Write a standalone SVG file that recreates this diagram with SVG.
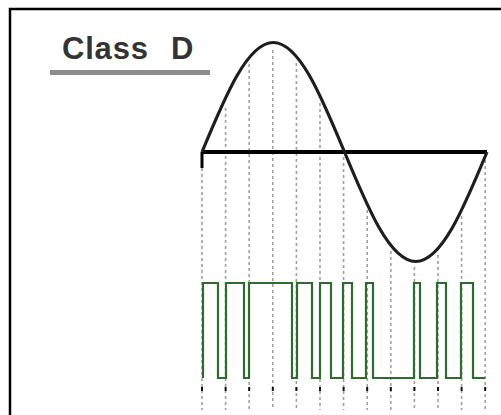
<svg xmlns="http://www.w3.org/2000/svg" width="501" height="415" viewBox="0 0 501 415">
<style>
.title{font-family:"Liberation Sans",Arial,sans-serif;font-weight:bold;font-size:31px;fill:#343434;letter-spacing:0.8px}
.grid{stroke:#a0a0a0;stroke-width:1.6;stroke-dasharray:3 3;fill:none}
.tick{fill:#111}
.wave{stroke:#1e1e1e;stroke-width:3.2;fill:none;stroke-linejoin:round}
.axis{stroke:#000;stroke-width:4;fill:none}
.pwm{stroke:#2f6b2f;stroke-width:2.2;fill:none;stroke-linejoin:miter}
</style>
<rect width="501" height="415" fill="#fff"/>
<g id="frame">
<path d="M10,415 V9 H501" stroke="#000" stroke-width="2.5" fill="none"/>
</g>
<g id="title">
<text class="title" x="62" y="59">Class<tspan x="171">D</tspan></text>
<rect x="50" y="70" width="160" height="5" fill="#8c8c8c"/>
</g>
<g id="connectors">
<path class="grid" d="M202,168V410 M225.6,108V410 M249.2,64V410 M272.8,50V410 M296.4,63V410 M320,103V410 M343.6,157V410 M367.2,210V410 M390.8,251V410 M414.4,267V410 M438,255V410 M461.6,216V410 M485.2,160V410"/>
<g class="tick">
<rect x="201" y="387" width="2" height="4"/>
<rect x="224.6" y="387" width="2" height="4"/>
<rect x="248.2" y="387" width="2" height="4"/>
<rect x="271.8" y="387" width="2" height="4"/>
<rect x="295.4" y="387" width="2" height="4"/>
<rect x="319" y="387" width="2" height="4"/>
<rect x="342.6" y="387" width="2" height="4"/>
<rect x="366.2" y="387" width="2" height="4"/>
<rect x="389.8" y="387" width="2" height="4"/>
<rect x="413.4" y="387" width="2" height="4"/>
<rect x="437" y="387" width="2" height="4"/>
<rect x="460.6" y="387" width="2" height="4"/>
<rect x="484.2" y="387" width="2" height="4"/>
</g>
</g>
<g id="axis">
<path class="axis" d="M202,152 H487"/>
<path d="M202,152 V168" stroke="#000" stroke-width="3"/>
</g>
<g id="sine">
<path class="wave" d="M202,152 C225.24,95.9 247.47,42.5 273.25,42.5 C299.03,42.5 321.26,95.9 344.5,152 C367.740,208.1 389.97,261.5 415.75,261.5 C441.53,261.5 463.76,208.1 487,152"/>
</g>
<g id="pwm">
<path class="pwm" d="M203,378 V283 H218 V378 H226 V283 H244 V378 H249 V283 H292 V378 H297 V283 H312 V378 H320 V283 H331 V378 H343 V283 H352 V378 H366 V283 H373 V378 H414 V283 H420 V378 H437 V283 H446 V378 H461 V283 H473 V378 H485"/>
</g>
</svg>
